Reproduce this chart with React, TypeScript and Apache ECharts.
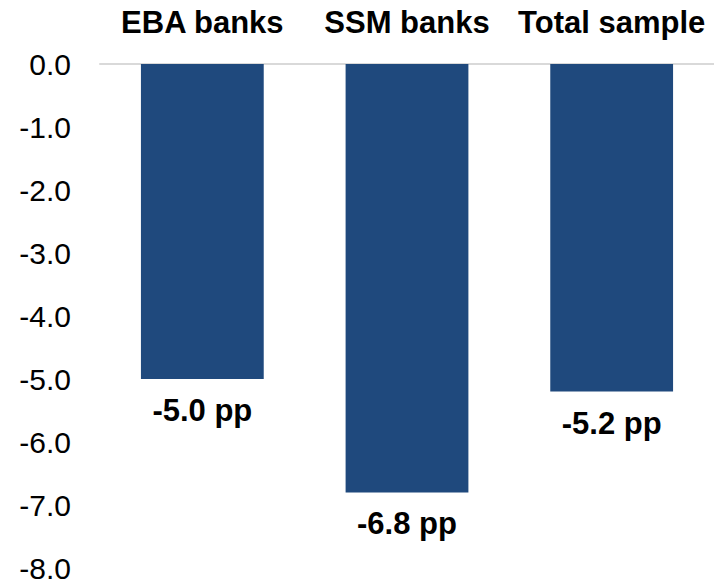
import React, { useEffect, useRef } from "react";
import * as echarts from "echarts";

const categories = ["EBA banks", "SSM banks", "Total sample"];
const values = [-5.0, -6.8, -5.2];
const yMin = -8;
const yMax = 0;
const yInterval = 1;

export default function App() {
  const ref = useRef<HTMLDivElement>(null);
  useEffect(() => {
    if (!ref.current) return;
    const chart = echarts.init(ref.current, null, { renderer: "svg" });
    const font = "Arial, 'Liberation Sans', sans-serif";
    chart.setOption({
      animation: false,
      grid: { left: 100, right: 0, top: 64, bottom: 20, containLabel: false },
      xAxis: {
        type: "category",
        position: "top",
        data: categories,
        axisLine: { show: true, lineStyle: { color: "#D9D9D9", width: 2 } },
        axisTick: { show: false },
        axisLabel: {
          color: "#000",
          fontFamily: font,
          fontWeight: "bold",
          fontSize: 31,
          margin: 26,
          interval: 0,
        },
      },
      yAxis: {
        type: "value",
        min: yMin,
        max: yMax,
        interval: yInterval,
        axisLine: { show: false },
        axisTick: { show: false },
        splitLine: { show: false },
        axisLabel: {
          color: "#000",
          fontFamily: font,
          fontSize: 30,
          margin: 29,
          formatter: (v: number) => v.toFixed(1),
        },
      },
      series: [
        {
          type: "bar",
          data: values,
          barWidth: "60%",
          itemStyle: { color: "#1F497D" },
          label: {
            show: true,
            position: "bottom",
            distance: 16,
            color: "#000",
            fontFamily: font,
            fontWeight: "bold",
            fontSize: 31,
            formatter: (p: any) => `${Number(p.value).toFixed(1)} pp`,
          },
        },
      ],
    });
    return () => chart.dispose();
  }, []);
  return (
    <div
      ref={ref}
      style={{ position: "fixed", left: 0, top: 0, width: 714, height: 588, background: "#fff" }}
    />
  );
}
